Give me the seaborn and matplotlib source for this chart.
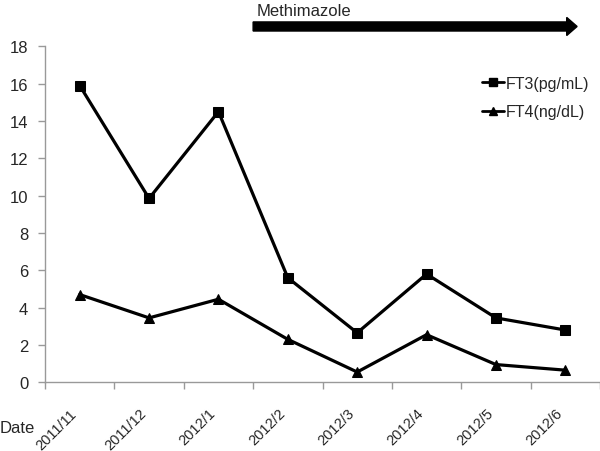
import numpy as np
import pandas as pd
import matplotlib
matplotlib.use("Agg")
import matplotlib.pyplot as plt
import matplotlib.transforms as mtransforms
from matplotlib.patches import FancyArrow
from matplotlib.lines import Line2D
import seaborn as sns

# data
dates = ["2011/11", "2011/12", "2012/1", "2012/2", "2012/3", "2012/4", "2012/5", "2012/6"]
ft3 = [15.9, 9.85, 14.5, 5.6, 2.65, 5.8, 3.45, 2.8]
ft4 = [4.7, 3.45, 4.45, 2.3, 0.55, 2.55, 0.95, 0.65]
series_names = ["FT3(pg/mL)", "FT4(ng/dL)"]
treatment_label = "Methimazole"
treatment_start = 2.5  # between 2012/1 and 2012/2
treatment_end = 7.17

df = pd.DataFrame({
    "pos": list(range(len(dates))) * 2,
    "value": ft3 + ft4,
    "series": [series_names[0]] * len(dates) + [series_names[1]] * len(dates),
})

sns.set_style("white")
plt.rcParams["font.family"] = ["Liberation Sans", "DejaVu Sans"]

fig = plt.figure(figsize=(6.0, 4.52), dpi=100)
ax = fig.add_axes([45 / 600, (452 - 383.3) / 452, 555 / 600, 336 / 452])

sns.lineplot(data=df, x="pos", y="value", hue="series", style="series",
             markers=["s", "^"], dashes=False, palette=["black", "black"],
             linewidth=2.3, markersize=7, markeredgecolor="black",
             legend=False, ax=ax)

ax.set_xlim(-0.5, len(dates) - 0.5)
ax.set_ylim(0, 18)
ax.set_yticks(np.arange(0, 19, 2))
ax.set_xlabel("")
ax.set_ylabel("")

# category labels at centres, tick marks at category boundaries
ax.set_xticks(range(len(dates)))
ax.set_xticklabels(dates, rotation=45, ha="right", va="top", fontsize=10.5)
ax.tick_params(axis="x", which="major", length=0, pad=17)
ax.set_xticks(np.arange(-0.5, len(dates) + 0.5, 1), minor=True)
ax.tick_params(axis="x", which="minor", length=5, color="#999999", width=1, direction="out", bottom=True)
ax.tick_params(axis="y", length=5, color="#999999", width=1, direction="out", left=True, pad=7, labelsize=12)

for side in ["top", "right"]:
    ax.spines[side].set_visible(False)
for side in ["left", "bottom"]:
    ax.spines[side].set_color("#999999")
    ax.spines[side].set_linewidth(1)

handles = [Line2D([], [], color="black", lw=2, marker="s", markersize=6),
           Line2D([], [], color="black", lw=2, marker="^", markersize=6)]
ax.legend(handles, series_names, loc="upper left", bbox_to_anchor=(0.762, 0.955),
          frameon=False, fontsize=11.5, handlelength=1.38, handletextpad=0.08,
          labelspacing=0.85)

# treatment arrow above the plot
trans = mtransforms.blended_transform_factory(ax.transData, ax.transAxes)
arrow = FancyArrow(treatment_start, 1.059, treatment_end - treatment_start, 0,
                   width=0.027, head_width=0.054, head_length=0.15,
                   length_includes_head=True, color="black",
                   transform=trans, clip_on=False)
ax.add_patch(arrow)
ax.text(treatment_start + 0.05, 1.108, treatment_label, transform=trans,
        fontsize=12, ha="left", va="center")

fig.text(0.0, 0.053, "Date", fontsize=12, ha="left", va="center")

fig.savefig("out.png", dpi=100)
